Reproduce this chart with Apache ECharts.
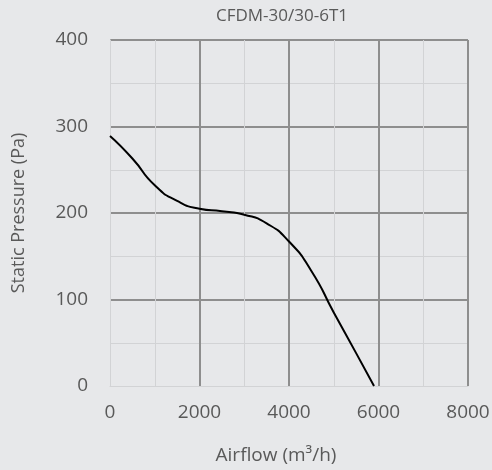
<!DOCTYPE html>
<html>
<head>
<meta charset="utf-8">
<script src="https://cdn.jsdelivr.net/npm/echarts@6/dist/echarts.min.js"></script>
<style>
  html, body { margin: 0; padding: 0; background: #e7e8ea; }
  #chart { width: 492px; height: 470px; }
</style>
</head>
<body>
<div id="chart"></div>
<script>
// curve
var airflow = [0, 500, 1000, 1500, 2000, 2500, 3000, 3500, 4000, 4500, 5000, 5500, 5900]
var pressure = [289, 263, 232, 214, 205, 202, 198, 188, 167, 133, 85, 38, 0]

var title = 'CFDM-30/30-6T1'
var xName = 'Airflow (m³/h)'
var yName = 'Static Pressure (Pa)'

var textColor = '#595959'
var majorColor = '#8e8e8e'
var minorColor = '#d2d3d5'
var font = 'Open Sans'

var chart = echarts.init(document.getElementById('chart'))

chart.setOption({
  backgroundColor: '#e7e8ea',
  animation: false,
  title: {
    text: title,
    left: 211,
    top: 3,
    textStyle: { color: textColor, fontSize: 17, fontWeight: 'normal', fontFamily: font }
  },
  // fixed plot box, don't let echarts shrink it to fit labels
  grid: { left: 110, right: 24, top: 40, bottom: 84, containLabel: false, outerBoundsMode: 'none' },
  xAxis: {
    type: 'value',
    min: 0,
    max: 8000,
    interval: 2000,
    name: xName,
    nameLocation: 'middle',
    nameGap: 60,
    nameTextStyle: { color: textColor, fontSize: 19, fontFamily: font, padding: [0, 26, 0, 0] },
    axisLine: { show: true, lineStyle: { color: minorColor, width: 1 } },
    axisTick: { show: false },
    axisLabel: { color: textColor, fontSize: 19, margin: 17, fontFamily: font, formatter: function (v) { return String(v) } },
    splitLine: { show: true, showMinLine: false, lineStyle: { color: majorColor, width: 2 } },
    minorTick: { show: false, splitNumber: 2 },
    minorSplitLine: { show: true, lineStyle: { color: minorColor, width: 1 } }
  },
  yAxis: {
    type: 'value',
    min: 0,
    max: 400,
    interval: 100,
    name: yName,
    nameLocation: 'middle',
    nameGap: 82,
    nameTextStyle: { color: textColor, fontSize: 18, fontFamily: font },
    axisLine: { show: true, lineStyle: { color: minorColor, width: 1 } },
    axisTick: { show: false },
    axisLabel: { color: textColor, fontSize: 19, margin: 22, fontFamily: font },
    splitLine: { show: true, showMinLine: false, lineStyle: { color: majorColor, width: 2 } },
    minorTick: { show: false, splitNumber: 2 },
    minorSplitLine: { show: true, lineStyle: { color: minorColor, width: 1 } }
  },
  series: [
    {
      type: 'line',
      data: airflow.map(function (a, i) { return [a, pressure[i]] }),
      smooth: 0.6,
      showSymbol: false,
      lineStyle: { color: '#000', width: 2 }
    }
  ]
})
</script>
</body>
</html>
